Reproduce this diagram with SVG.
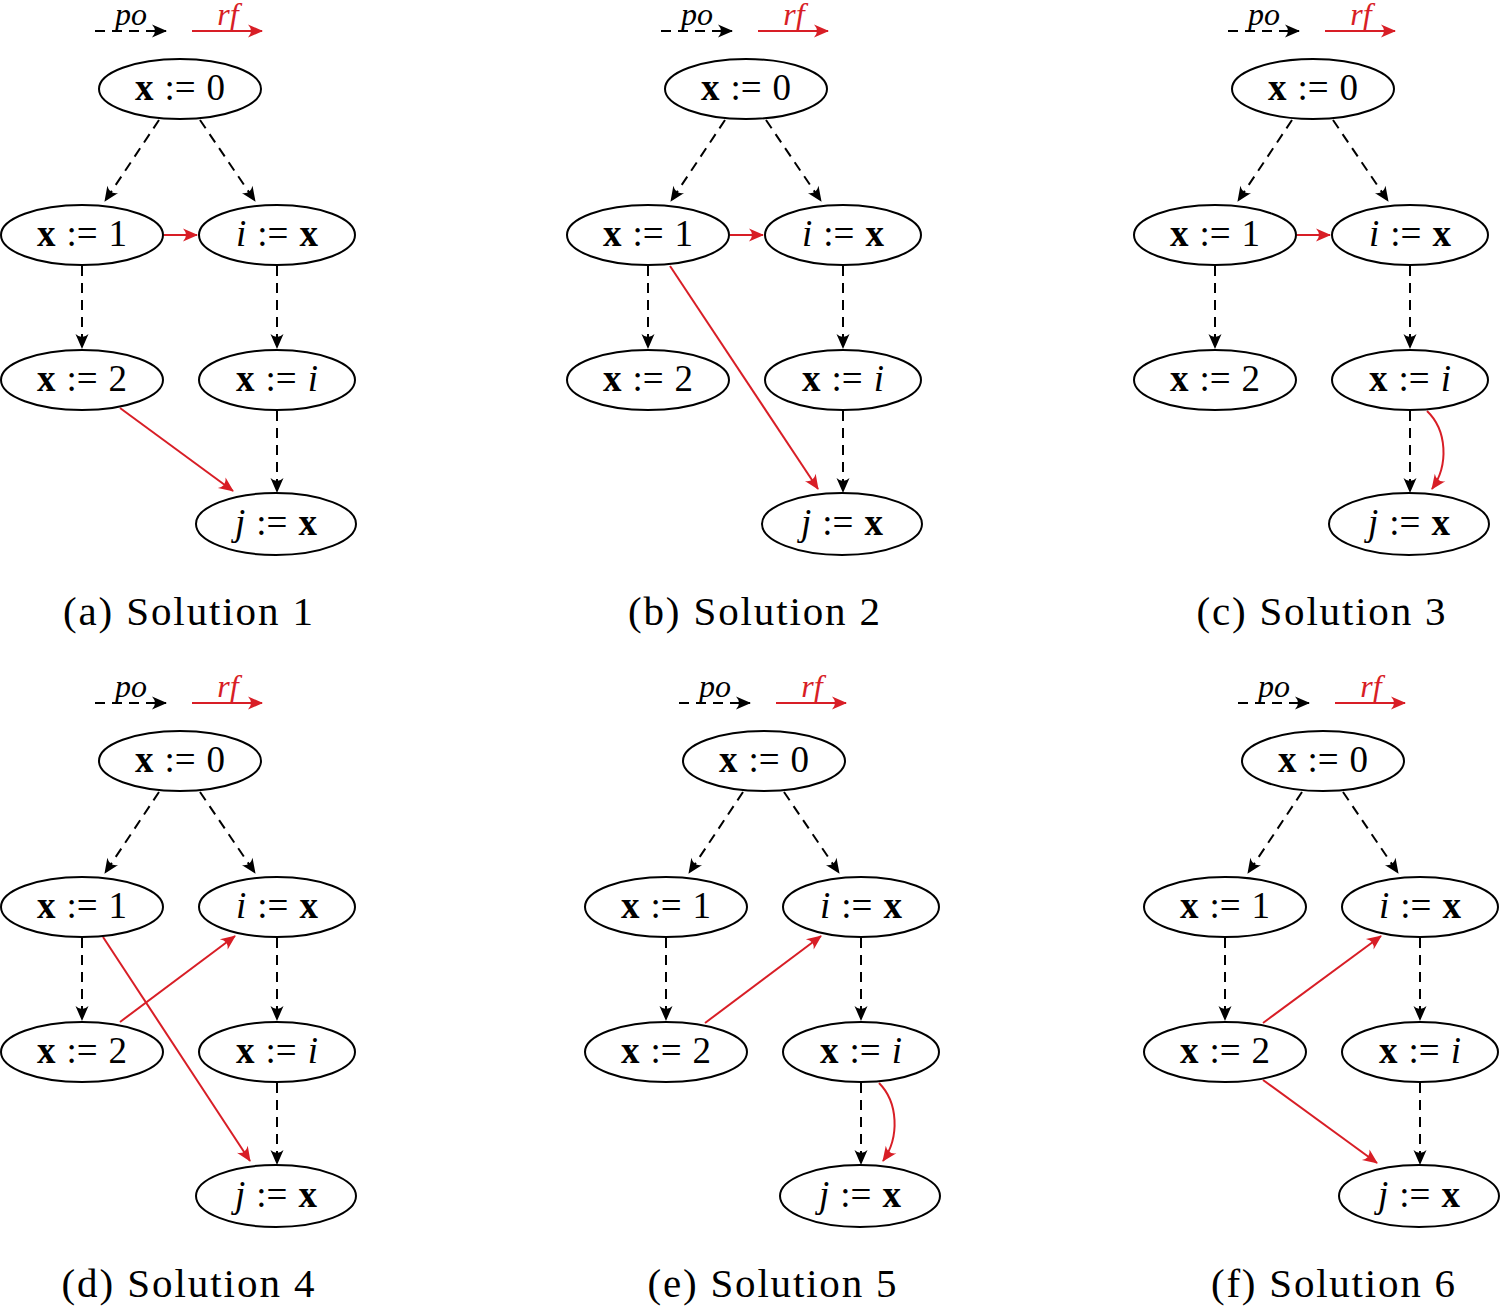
<svg xmlns="http://www.w3.org/2000/svg" width="1502" height="1307" viewBox="0 0 1502 1307">
<style>
.nd ellipse{fill:#fff;stroke:#000;stroke-width:2}
.lb{font-family:"Liberation Serif","Times New Roman",serif;font-size:37px;text-anchor:middle;fill:#000}
.b{font-weight:bold}
.it{font-style:italic}
.cap{font-family:"Liberation Serif","Times New Roman",serif;font-size:41px;text-anchor:middle;fill:#000}
.leg{font-family:"Liberation Serif","Times New Roman",serif;font-size:32px;font-style:italic;text-anchor:middle}
.po{fill:none;stroke:#000;stroke-width:2;stroke-dasharray:10,7;marker-end:url(#ab)}
.rf{fill:none;stroke:#d81e26;stroke-width:2;marker-end:url(#ar)}
</style>
<defs>
<marker id="ab" viewBox="-16 -8 17 16" refX="0" refY="0" markerWidth="17" markerHeight="16" markerUnits="userSpaceOnUse" orient="auto">
<path d="M1,0 L-14,-6.5 Q-8,0 -14,6.5 Z" fill="#000"/>
</marker>
<marker id="ar" viewBox="-16 -8 17 16" refX="0" refY="0" markerWidth="17" markerHeight="16" markerUnits="userSpaceOnUse" orient="auto">
<path d="M1,0 L-14,-6.5 Q-8,0 -14,6.5 Z" fill="#d81e26"/>
</marker>
<g id="legend">
<line x1="95" y1="31" x2="166" y2="31" class="po"/>
<text x="131" y="25" class="leg" fill="#000">po</text>
<line x1="192" y1="31" x2="262" y2="31" class="rf"/>
<text x="228" y="25" class="leg" fill="#d81e26">rf</text>
</g>
<g id="po-common">
<line x1="159" y1="120" x2="105" y2="201" class="po"/>
<line x1="200" y1="120" x2="255" y2="201" class="po"/>
<line x1="82" y1="266" x2="82" y2="348" class="po"/>
<line x1="277" y1="266" x2="277" y2="348" class="po"/>
<line x1="277" y1="411" x2="277" y2="492" class="po"/>
</g>
</defs>

<!-- Panel a -->
<g id="panel-a" transform="translate(0,0)">
<use href="#legend"/>
<g id="a-conn">
<use href="#po-common"/>
<line x1="164" y1="235" x2="197" y2="235" class="rf"/>
<line x1="120" y1="408" x2="233" y2="491" class="rf"/>
</g>
<g id="a-x0" class="nd"><ellipse cx="180" cy="89" rx="81" ry="30"/><text x="180" y="100" class="lb"><tspan class="b">x</tspan><tspan dx="11">:=</tspan><tspan dx="11">0</tspan></text></g>
<g id="a-x1" class="nd"><ellipse cx="82" cy="235" rx="81" ry="30"/><text x="82" y="246" class="lb"><tspan class="b">x</tspan><tspan dx="11">:=</tspan><tspan dx="11">1</tspan></text></g>
<g id="a-ix" class="nd"><ellipse cx="277" cy="235" rx="78" ry="30"/><text x="277" y="246" class="lb"><tspan class="it">i</tspan><tspan dx="11">:=</tspan><tspan class="b" dx="11">x</tspan></text></g>
<g id="a-x2" class="nd"><ellipse cx="82" cy="380" rx="81" ry="30"/><text x="82" y="391" class="lb"><tspan class="b">x</tspan><tspan dx="11">:=</tspan><tspan dx="11">2</tspan></text></g>
<g id="a-xi" class="nd"><ellipse cx="277" cy="380" rx="78" ry="30"/><text x="277" y="391" class="lb"><tspan class="b">x</tspan><tspan dx="11">:=</tspan><tspan class="it" dx="11">i</tspan></text></g>
<g id="a-jx" class="nd"><ellipse cx="276" cy="524" rx="80" ry="31"/><text x="276" y="535" class="lb"><tspan class="it">j</tspan><tspan dx="11">:=</tspan><tspan class="b" dx="11">x</tspan></text></g>
<text x="188" y="625" class="cap" textLength="250" lengthAdjust="spacing">(a) Solution 1</text>
</g>

<!-- Panel b -->
<g id="panel-b" transform="translate(566,0)">
<use href="#legend"/>
<g id="b-conn">
<use href="#po-common"/>
<line x1="164" y1="235" x2="197" y2="235" class="rf"/>
<line x1="104" y1="266" x2="252" y2="489" class="rf"/>
</g>
<g id="b-x0" class="nd"><ellipse cx="180" cy="89" rx="81" ry="30"/><text x="180" y="100" class="lb"><tspan class="b">x</tspan><tspan dx="11">:=</tspan><tspan dx="11">0</tspan></text></g>
<g id="b-x1" class="nd"><ellipse cx="82" cy="235" rx="81" ry="30"/><text x="82" y="246" class="lb"><tspan class="b">x</tspan><tspan dx="11">:=</tspan><tspan dx="11">1</tspan></text></g>
<g id="b-ix" class="nd"><ellipse cx="277" cy="235" rx="78" ry="30"/><text x="277" y="246" class="lb"><tspan class="it">i</tspan><tspan dx="11">:=</tspan><tspan class="b" dx="11">x</tspan></text></g>
<g id="b-x2" class="nd"><ellipse cx="82" cy="380" rx="81" ry="30"/><text x="82" y="391" class="lb"><tspan class="b">x</tspan><tspan dx="11">:=</tspan><tspan dx="11">2</tspan></text></g>
<g id="b-xi" class="nd"><ellipse cx="277" cy="380" rx="78" ry="30"/><text x="277" y="391" class="lb"><tspan class="b">x</tspan><tspan dx="11">:=</tspan><tspan class="it" dx="11">i</tspan></text></g>
<g id="b-jx" class="nd"><ellipse cx="276" cy="524" rx="80" ry="31"/><text x="276" y="535" class="lb"><tspan class="it">j</tspan><tspan dx="11">:=</tspan><tspan class="b" dx="11">x</tspan></text></g>
<text x="188" y="625" class="cap" textLength="252" lengthAdjust="spacing">(b) Solution 2</text>
</g>

<!-- Panel c -->
<g id="panel-c" transform="translate(1133,0)">
<use href="#legend"/>
<g id="c-conn">
<use href="#po-common"/>
<line x1="164" y1="235" x2="197" y2="235" class="rf"/>
<path d="M294,411 C314,430 316,465 299,489" class="rf"/>
</g>
<g id="c-x0" class="nd"><ellipse cx="180" cy="89" rx="81" ry="30"/><text x="180" y="100" class="lb"><tspan class="b">x</tspan><tspan dx="11">:=</tspan><tspan dx="11">0</tspan></text></g>
<g id="c-x1" class="nd"><ellipse cx="82" cy="235" rx="81" ry="30"/><text x="82" y="246" class="lb"><tspan class="b">x</tspan><tspan dx="11">:=</tspan><tspan dx="11">1</tspan></text></g>
<g id="c-ix" class="nd"><ellipse cx="277" cy="235" rx="78" ry="30"/><text x="277" y="246" class="lb"><tspan class="it">i</tspan><tspan dx="11">:=</tspan><tspan class="b" dx="11">x</tspan></text></g>
<g id="c-x2" class="nd"><ellipse cx="82" cy="380" rx="81" ry="30"/><text x="82" y="391" class="lb"><tspan class="b">x</tspan><tspan dx="11">:=</tspan><tspan dx="11">2</tspan></text></g>
<g id="c-xi" class="nd"><ellipse cx="277" cy="380" rx="78" ry="30"/><text x="277" y="391" class="lb"><tspan class="b">x</tspan><tspan dx="11">:=</tspan><tspan class="it" dx="11">i</tspan></text></g>
<g id="c-jx" class="nd"><ellipse cx="276" cy="524" rx="80" ry="31"/><text x="276" y="535" class="lb"><tspan class="it">j</tspan><tspan dx="11">:=</tspan><tspan class="b" dx="11">x</tspan></text></g>
<text x="188" y="625" class="cap" textLength="249" lengthAdjust="spacing">(c) Solution 3</text>
</g>

<!-- Panel d -->
<g id="panel-d" transform="translate(0,672)">
<use href="#legend"/>
<g id="d-conn">
<use href="#po-common"/>
<line x1="103" y1="265" x2="250" y2="489" class="rf"/>
<line x1="120" y1="350" x2="235" y2="264" class="rf"/>
</g>
<g id="d-x0" class="nd"><ellipse cx="180" cy="89" rx="81" ry="30"/><text x="180" y="100" class="lb"><tspan class="b">x</tspan><tspan dx="11">:=</tspan><tspan dx="11">0</tspan></text></g>
<g id="d-x1" class="nd"><ellipse cx="82" cy="235" rx="81" ry="30"/><text x="82" y="246" class="lb"><tspan class="b">x</tspan><tspan dx="11">:=</tspan><tspan dx="11">1</tspan></text></g>
<g id="d-ix" class="nd"><ellipse cx="277" cy="235" rx="78" ry="30"/><text x="277" y="246" class="lb"><tspan class="it">i</tspan><tspan dx="11">:=</tspan><tspan class="b" dx="11">x</tspan></text></g>
<g id="d-x2" class="nd"><ellipse cx="82" cy="380" rx="81" ry="30"/><text x="82" y="391" class="lb"><tspan class="b">x</tspan><tspan dx="11">:=</tspan><tspan dx="11">2</tspan></text></g>
<g id="d-xi" class="nd"><ellipse cx="277" cy="380" rx="78" ry="30"/><text x="277" y="391" class="lb"><tspan class="b">x</tspan><tspan dx="11">:=</tspan><tspan class="it" dx="11">i</tspan></text></g>
<g id="d-jx" class="nd"><ellipse cx="276" cy="524" rx="80" ry="31"/><text x="276" y="535" class="lb"><tspan class="it">j</tspan><tspan dx="11">:=</tspan><tspan class="b" dx="11">x</tspan></text></g>
<text x="188" y="625" class="cap" textLength="253" lengthAdjust="spacing">(d) Solution 4</text>
</g>

<!-- Panel e -->
<g id="panel-e" transform="translate(584,672)">
<use href="#legend"/>
<g id="e-conn">
<use href="#po-common"/>
<line x1="121" y1="351" x2="237" y2="264" class="rf"/>
<path d="M295,411 C314,430 316,465 299,489" class="rf"/>
</g>
<g id="e-x0" class="nd"><ellipse cx="180" cy="89" rx="81" ry="30"/><text x="180" y="100" class="lb"><tspan class="b">x</tspan><tspan dx="11">:=</tspan><tspan dx="11">0</tspan></text></g>
<g id="e-x1" class="nd"><ellipse cx="82" cy="235" rx="81" ry="30"/><text x="82" y="246" class="lb"><tspan class="b">x</tspan><tspan dx="11">:=</tspan><tspan dx="11">1</tspan></text></g>
<g id="e-ix" class="nd"><ellipse cx="277" cy="235" rx="78" ry="30"/><text x="277" y="246" class="lb"><tspan class="it">i</tspan><tspan dx="11">:=</tspan><tspan class="b" dx="11">x</tspan></text></g>
<g id="e-x2" class="nd"><ellipse cx="82" cy="380" rx="81" ry="30"/><text x="82" y="391" class="lb"><tspan class="b">x</tspan><tspan dx="11">:=</tspan><tspan dx="11">2</tspan></text></g>
<g id="e-xi" class="nd"><ellipse cx="277" cy="380" rx="78" ry="30"/><text x="277" y="391" class="lb"><tspan class="b">x</tspan><tspan dx="11">:=</tspan><tspan class="it" dx="11">i</tspan></text></g>
<g id="e-jx" class="nd"><ellipse cx="276" cy="524" rx="80" ry="31"/><text x="276" y="535" class="lb"><tspan class="it">j</tspan><tspan dx="11">:=</tspan><tspan class="b" dx="11">x</tspan></text></g>
<text x="188" y="625" class="cap" textLength="249" lengthAdjust="spacing">(e) Solution 5</text>
</g>

<!-- Panel f -->
<g id="panel-f" transform="translate(1143,672)">
<use href="#legend"/>
<g id="f-conn">
<use href="#po-common"/>
<line x1="120" y1="351" x2="238" y2="264" class="rf"/>
<line x1="120" y1="408" x2="234" y2="491" class="rf"/>
</g>
<g id="f-x0" class="nd"><ellipse cx="180" cy="89" rx="81" ry="30"/><text x="180" y="100" class="lb"><tspan class="b">x</tspan><tspan dx="11">:=</tspan><tspan dx="11">0</tspan></text></g>
<g id="f-x1" class="nd"><ellipse cx="82" cy="235" rx="81" ry="30"/><text x="82" y="246" class="lb"><tspan class="b">x</tspan><tspan dx="11">:=</tspan><tspan dx="11">1</tspan></text></g>
<g id="f-ix" class="nd"><ellipse cx="277" cy="235" rx="78" ry="30"/><text x="277" y="246" class="lb"><tspan class="it">i</tspan><tspan dx="11">:=</tspan><tspan class="b" dx="11">x</tspan></text></g>
<g id="f-x2" class="nd"><ellipse cx="82" cy="380" rx="81" ry="30"/><text x="82" y="391" class="lb"><tspan class="b">x</tspan><tspan dx="11">:=</tspan><tspan dx="11">2</tspan></text></g>
<g id="f-xi" class="nd"><ellipse cx="277" cy="380" rx="78" ry="30"/><text x="277" y="391" class="lb"><tspan class="b">x</tspan><tspan dx="11">:=</tspan><tspan class="it" dx="11">i</tspan></text></g>
<g id="f-jx" class="nd"><ellipse cx="276" cy="524" rx="80" ry="31"/><text x="276" y="535" class="lb"><tspan class="it">j</tspan><tspan dx="11">:=</tspan><tspan class="b" dx="11">x</tspan></text></g>
<text x="190" y="625" class="cap" textLength="244" lengthAdjust="spacing">(f) Solution 6</text>
</g>
</svg>
